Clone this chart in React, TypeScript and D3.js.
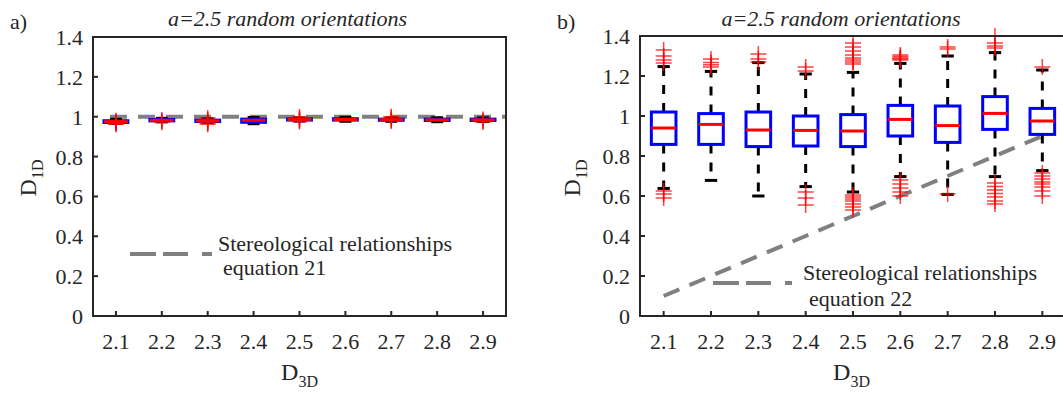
import * as d3 from 'd3'

// categories on the x axis (D3D)
const categories = ['2.1', '2.2', '2.3', '2.4', '2.5', '2.6', '2.7', '2.8', '2.9']
const yTicks = [0, 0.2, 0.4, 0.6, 0.8, 1, 1.2, 1.4]
const yTickLabels = ['0', '0.2', '0.4', '0.6', '0.8', '1', '1.2', '1.4']

// panel a) boxplot stats
const aQ1 = [0.971, 0.979, 0.976, 0.972, 0.983, 0.983, 0.982, 0.981, 0.981]
const aMedian = [0.975, 0.982, 0.979, 0.982, 0.986, 0.986, 0.985, 0.984, 0.984]
const aQ3 = [0.980, 0.986, 0.983, 0.988, 0.989, 0.990, 0.988, 0.988, 0.988]
const aWhiskerLo = [0.966, 0.974, 0.971, 0.965, 0.978, 0.977, 0.977, 0.975, 0.976]
const aWhiskerHi = [0.987, 0.992, 0.990, 0.996, 0.994, 0.997, 0.994, 0.995, 0.994]
const aOutliers = [
  [0.962, 0.966, 0.970, 0.976, 0.980],
  [0.972, 0.978, 0.984],
  [0.962, 0.968, 0.975, 0.984, 0.994],
  [],
  [0.976, 0.982, 0.990, 0.998],
  [],
  [0.978, 0.984, 0.992, 1.0],
  [],
  [0.974, 0.980, 0.986],
]
const eq21 = [1, 1, 1, 1, 1, 1, 1, 1, 1]

// panel b) boxplot stats
const bQ1 = [0.858, 0.858, 0.847, 0.850, 0.847, 0.900, 0.868, 0.933, 0.908]
const bMedian = [0.940, 0.958, 0.930, 0.928, 0.925, 0.983, 0.952, 1.013, 0.975]
const bQ3 = [1.020, 1.012, 1.020, 1.000, 1.007, 1.053, 1.050, 1.097, 1.038]
const bWhiskerLo = [0.638, 0.678, 0.600, 0.647, 0.620, 0.697, 0.608, 0.697, 0.727]
const bWhiskerHi = [1.247, 1.223, 1.267, 1.210, 1.218, 1.263, 1.300, 1.317, 1.230]
const bOutliers = [
  [1.33, 1.30, 1.28, 1.265, 0.625, 0.61, 0.59],
  [1.285, 1.268, 1.256, 1.245],
  [1.31, 1.285, 1.27],
  [1.245, 1.225, 0.62, 0.59, 0.555],
  [1.365, 1.345, 1.325, 1.305, 1.29, 1.28, 1.27, 1.26, 0.605, 0.595, 0.585, 0.575, 0.56, 0.545, 0.53],
  [1.305, 1.298, 1.29, 1.285, 1.28, 0.68, 0.66, 0.64, 0.62, 0.60],
  [1.345, 1.335, 0.61],
  [1.40, 1.365, 1.35, 1.34, 0.665, 0.648, 0.63, 0.612, 0.595, 0.575, 0.56],
  [1.245, 0.715, 0.70, 0.685, 0.67, 0.66, 0.645, 0.625, 0.60],
]
const eq22 = [0.1, 0.2, 0.3, 0.4, 0.5, 0.6, 0.7, 0.8, 0.9]

const FONT = "'Liberation Serif', 'Times New Roman', Times, serif"
const INK = '#262626'
const GREY = '#808080'

interface PanelProps {
  tag: string
  left: number
  right: number
  top: number
  q1: number[]
  median: number[]
  q3: number[]
  whiskerLo: number[]
  whiskerHi: number[]
  outliers: number[][]
  refLine: number[]
  refExtent: [number, number] | null
  legend: { x1: number; x2: number; y: number; tx: number; t1y: number; t2x: number; t2y: number; eq: string }
  ylabX: number
}

function BoxPanel(p: PanelProps) {
  const bottom = 316
  const x = d3.scaleLinear().domain([0.5, 9.5]).range([p.left, p.right])
  const y = d3.scaleLinear().domain([0, 1.4]).range([bottom, p.top])
  const unit = x(1) - x(0)
  const half = unit * 0.26
  const cap = unit * 0.13
  const mk = 8
  const cx = (i: number) => x(i + 1)

  const refPath = p.refExtent
    ? `M${x(p.refExtent[0])},${y(p.refLine[0])}H${x(p.refExtent[1])}`
    : d3.line<number>().x((_, i) => cx(i)).y(d => y(d))(p.refLine)

  const mid = (p.left + Math.min(p.right, 1063)) / 2
  const txt = { fontFamily: FONT, fill: INK }

  return (
    <g style={txt}>
      <text x={p.left - 83} y={29} fontSize={22} style={txt}>{p.tag}</text>
      <text x={(p.left + p.right) / 2 - 12} y={26} fontSize={22} fontStyle="italic" textAnchor="middle" style={txt}>
        a=2.5 random orientations
      </text>

      {/* reference relation */}
      <path d={refPath || ''} fill="none" stroke={GREY} strokeWidth={4} strokeDasharray="17 11" />

      {/* boxes */}
      {categories.map((c, i) => (
        <g key={c}>
          <line x1={cx(i)} x2={cx(i)} y1={y(p.q3[i])} y2={y(p.whiskerHi[i])} stroke="#000" strokeWidth={3} strokeDasharray="9 9" />
          <line x1={cx(i)} x2={cx(i)} y1={y(p.q1[i])} y2={y(p.whiskerLo[i])} stroke="#000" strokeWidth={3} strokeDasharray="9 9" />
          <line x1={cx(i) - cap} x2={cx(i) + cap} y1={y(p.whiskerHi[i])} y2={y(p.whiskerHi[i])} stroke="#000" strokeWidth={3} />
          <line x1={cx(i) - cap} x2={cx(i) + cap} y1={y(p.whiskerLo[i])} y2={y(p.whiskerLo[i])} stroke="#000" strokeWidth={3} />
          <rect x={cx(i) - half} width={half * 2} y={y(p.q3[i])} height={Math.max(0.5, y(p.q1[i]) - y(p.q3[i]))}
            fill="none" stroke="#0000ff" strokeWidth={3} />
          <line x1={cx(i) - half} x2={cx(i) + half} y1={y(p.median[i])} y2={y(p.median[i])} stroke="#ff0000" strokeWidth={3} />
          {p.outliers[i].map((v, j) => (
            <path key={j} d={`M${cx(i) - mk},${y(v)}H${cx(i) + mk}M${cx(i)},${y(v) - mk}V${y(v) + mk}`}
              stroke="#ff0000" strokeWidth={1.5} strokeOpacity={0.75} fill="none" />
          ))}
        </g>
      ))}

      {/* axes box */}
      <path d={`M${p.left},${p.top}H${p.right}V${bottom}H${p.left}Z`} fill="none" stroke={INK} strokeWidth={2} />
      {yTicks.map((t, i) => (
        <g key={t}>
          <line x1={p.left} x2={p.left + 5} y1={y(t)} y2={y(t)} stroke={INK} strokeWidth={2} />
          <text x={p.left - 10} y={y(t) + 8} fontSize={22} textAnchor="end" style={txt}>{yTickLabels[i]}</text>
        </g>
      ))}
      {categories.map((c, i) => (
        <g key={c}>
          <line x1={cx(i)} x2={cx(i)} y1={bottom} y2={bottom - 5} stroke={INK} strokeWidth={2} />
          <text x={cx(i)} y={349} fontSize={22} textAnchor="middle" style={txt}>{c}</text>
        </g>
      ))}

      {/* axis labels */}
      <text x={mid} y={380} fontSize={24} textAnchor="middle" style={txt}>
        D<tspan fontSize={16} dy={7}>3D</tspan>
      </text>
      <text transform={`translate(${p.ylabX},178) rotate(-90)`} fontSize={24} textAnchor="middle" style={txt}>
        D<tspan fontSize={16} dy={7}>1D</tspan>
      </text>

      {/* legend */}
      <line x1={p.legend.x1} x2={p.legend.x2} y1={p.legend.y} y2={p.legend.y} stroke={GREY} strokeWidth={4} strokeDasharray="26 7 25 14" />
      <text x={p.legend.tx} y={p.legend.t1y} fontSize={22} style={txt}>Stereological relationships</text>
      <text x={p.legend.t2x} y={p.legend.t2y} fontSize={22} style={txt}>{p.legend.eq}</text>
    </g>
  )
}

export default function App() {
  return (
    <svg width={1063} height={394} style={{ position: 'absolute', left: 0, top: 0, background: '#fff' }}>
      <rect width={1063} height={394} fill="#fff" />
      <BoxPanel
        tag="a)" left={93} right={506} top={37}
        q1={aQ1} median={aMedian} q3={aQ3} whiskerLo={aWhiskerLo} whiskerHi={aWhiskerHi} outliers={aOutliers}
        refLine={eq21} refExtent={[0.87, 9.5]}
        legend={{ x1: 130, x2: 212, y: 254, tx: 218, t1y: 251, t2x: 223, t2y: 275, eq: 'equation 21' }}
        ylabX={36}
      />
      <BoxPanel
        tag="b)" left={640} right={1066} top={36}
        q1={bQ1} median={bMedian} q3={bQ3} whiskerLo={bWhiskerLo} whiskerHi={bWhiskerHi} outliers={bOutliers}
        refLine={eq22} refExtent={null}
        legend={{ x1: 713, x2: 792, y: 283, tx: 803, t1y: 280, t2x: 809, t2y: 306, eq: 'equation 22' }}
        ylabX={580}
      />
    </svg>
  )
}
